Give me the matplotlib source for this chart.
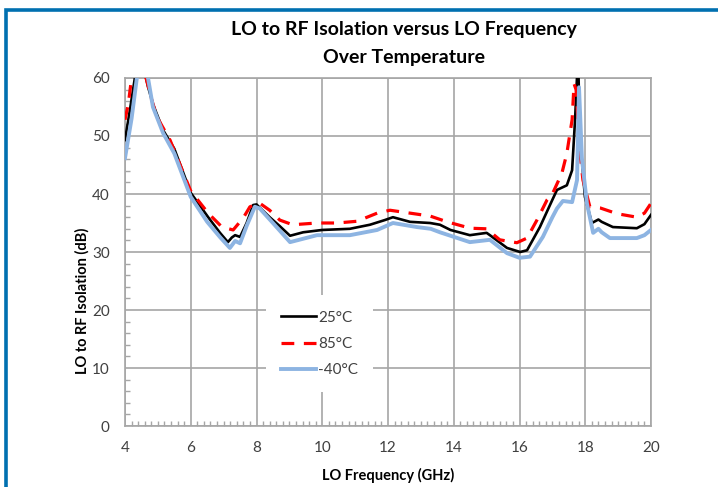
import matplotlib
matplotlib.use("Agg")
import matplotlib.pyplot as plt
from matplotlib.ticker import MultipleLocator
from matplotlib.patches import Rectangle

plt.rcParams['font.family'] = ['Lato', 'DejaVu Sans']

# LO to RF isolation (dB), per temperature
freq_25 = [4.0, 4.15, 4.3, 4.45, 4.6, 4.7, 4.85, 5.16, 5.5, 6.0, 6.53, 6.89, 7.13, 7.25,
           7.35, 7.5, 7.7, 7.9, 8.0, 8.4, 8.7, 9.02, 9.42, 10.0, 10.84, 11.45, 11.9,
           12.15, 12.67, 13.28, 13.58, 13.9, 14.49, 15.0, 15.1, 15.62, 16.02, 16.23,
           16.62, 17.0, 17.14, 17.44, 17.6, 17.69, 17.78, 17.84, 17.99, 18.2, 18.4,
           18.5, 18.84, 19.57, 19.8, 20.0]
iso_25 = [49.3, 54.5, 60.0, 65.0, 61.0, 58.5, 55.5, 51.0, 47.8, 40.2, 36.0, 33.3, 31.7, 32.5,
          32.9, 32.6, 35.0, 38.1, 38.2, 36.0, 34.5, 32.8, 33.4, 33.8, 34.0, 34.7, 35.5,
          36.0, 35.2, 35.0, 34.7, 33.8, 32.9, 33.3, 32.9, 30.7, 30.0, 30.3,
          34.3, 39.0, 40.7, 41.5, 44.1, 52.8, 64.0, 49.8, 39.5, 35.0, 35.6,
          35.2, 34.3, 34.1, 34.8, 36.4]

freq_85 = [4.0, 4.1, 4.2, 4.45, 4.64, 4.8, 4.97, 5.37, 6.0, 6.53, 6.95, 7.29, 7.6, 7.8,
           8.1, 8.4, 8.71, 9.1, 9.84, 10.45, 11.06, 11.67, 12.06, 12.67, 13.28, 13.8,
           14.5, 15.0, 15.4, 15.92, 16.23, 16.53, 16.84, 17.0, 17.29, 17.44, 17.6, 17.66,
           17.72, 17.84, 17.93, 18.14, 18.45, 18.97, 19.57, 19.8, 20.0]
iso_85 = [52.8, 55.5, 60.0, 66.0, 60.0, 56.5, 53.3, 49.3, 40.5, 36.7, 34.3, 33.8, 35.9, 37.8,
          38.4, 37.2, 35.5, 34.7, 35.0, 35.0, 35.3, 36.7, 37.2, 36.7, 36.2, 35.2,
          34.1, 34.0, 32.1, 31.6, 32.4, 35.5, 39.0, 40.0, 43.6, 47.0, 52.8, 59.0,
          58.0, 47.0, 42.4, 37.8, 37.6, 36.6, 36.0, 36.7, 38.4]

freq_m40 = [4.0, 4.2, 4.36, 4.5, 4.7, 4.85, 5.16, 5.5, 6.0, 6.5, 6.9, 7.19, 7.35, 7.5,
            7.7, 7.95, 8.1, 8.5, 9.02, 9.84, 10.84, 11.67, 12.15, 12.88, 13.3, 13.58,
            14.49, 15.1, 15.62, 16.0, 16.32, 16.71, 17.0, 17.14, 17.32, 17.6, 17.75,
            17.81, 17.9, 18.05, 18.24, 18.4, 18.5, 18.75, 19.57, 19.8, 20.0]
iso_m40 = [46.2, 53.0, 60.0, 64.0, 60.0, 55.0, 50.5, 47.0, 39.5, 35.2, 32.5, 30.7, 31.9, 31.5,
           34.5, 37.8, 37.5, 35.0, 31.7, 32.9, 32.9, 33.8, 35.0, 34.3, 34.0, 33.4,
           31.7, 32.1, 29.8, 29.0, 29.2, 32.6, 36.0, 37.5, 38.8, 38.6, 42.4,
           58.4, 46.0, 38.4, 33.3, 34.0, 33.4, 32.4, 32.4, 32.9, 33.8]

labels = ['25°C', '85°C', '-40°C']

grid_col = '#A6A6A6'
text_col = '#404040'

fig = plt.figure(figsize=(7.18, 4.87), dpi=100)
ax = fig.add_axes([125 / 718, 61 / 487, 526 / 718, 348 / 487])

# blue frame around the whole figure
fig.patches.append(Rectangle((5.5 / 718, -0.05), 1.2, 1.05 - 9.5 / 487, transform=fig.transFigure,
                             fill=False, edgecolor='#0070B0', linewidth=2.6))

ax.plot(freq_25, iso_25, color='black', lw=1.9, label=labels[0], zorder=3)
ax.plot(freq_85, iso_85, color='#FF0000', lw=2.3, dashes=(4, 3), label=labels[1], zorder=4)
ax.plot(freq_m40, iso_m40, color='#8DB4E2', lw=2.8, label=labels[2], zorder=5)

ax.set_xlim(4, 20)
ax.set_ylim(0, 60)
ax.xaxis.set_major_locator(MultipleLocator(2))
ax.xaxis.set_minor_locator(MultipleLocator(0.2))
ax.yaxis.set_major_locator(MultipleLocator(10))
ax.yaxis.set_minor_locator(MultipleLocator(2))
ax.grid(True, which='major', color=grid_col, lw=1.2)
ax.set_axisbelow(True)
ax.tick_params(which='major', length=0, labelsize=11, labelcolor=text_col, pad=11)
ax.tick_params(which='minor', direction='in', length=3.5, color=grid_col, width=1)
for s in ax.spines.values():
    s.set_color(grid_col)
    s.set_linewidth(1.2)

ax.set_xlabel('LO Frequency (GHz)', fontsize=10.5, fontweight='bold')
ax.set_ylabel('LO to RF Isolation (dB)', fontsize=10.5, fontweight='bold')
ax.xaxis.set_label_coords(0.5, -0.12)
ax.yaxis.set_label_coords(-0.068, 0.36)

fig.text(404 / 718, 1 - 30 / 487, 'LO to RF Isolation versus LO Frequency',
         ha='center', va='center', fontsize=14, fontweight='bold')
fig.text(404 / 718, 1 - 57 / 487, 'Over Temperature',
         ha='center', va='center', fontsize=14, fontweight='bold')

leg = ax.legend(loc='center', bbox_to_anchor=(0.37, 0.236), fontsize=11,
                handlelength=2.3, handletextpad=0.1, labelspacing=0.8,
                frameon=True, facecolor='white', edgecolor='none', framealpha=1,
                borderpad=1.0, borderaxespad=0)
for t in leg.get_texts():
    t.set_color(text_col)

fig.savefig('out.png', dpi=100)
